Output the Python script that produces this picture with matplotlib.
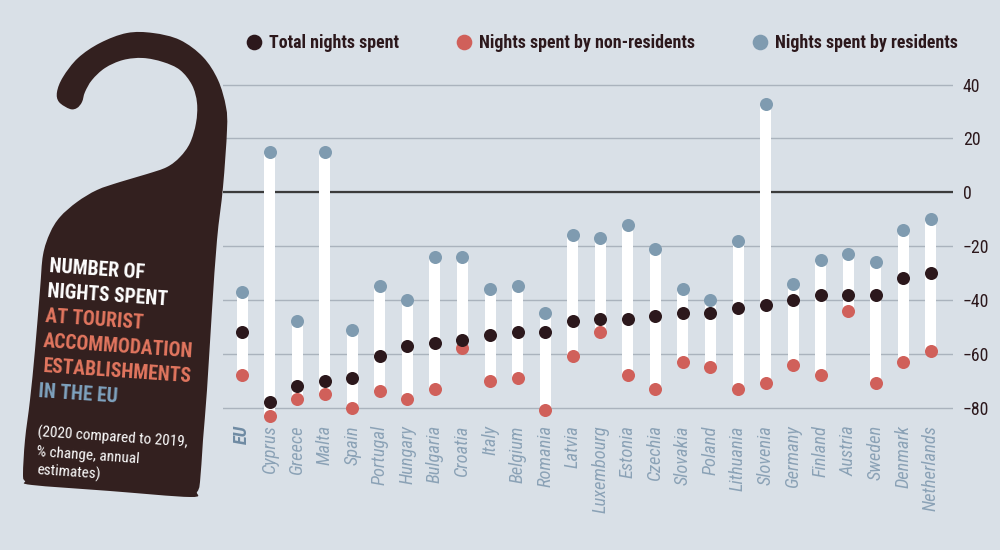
import matplotlib
matplotlib.use("Agg")
import matplotlib.pyplot as plt
from matplotlib import font_manager as fm
from matplotlib.path import Path
from matplotlib.patches import PathPatch
import numpy as np

# 2020 compared to 2019, % change
countries = ["EU", "Cyprus", "Greece", "Malta", "Spain", "Portugal", "Hungary",
             "Bulgaria", "Croatia", "Italy", "Belgium", "Romania", "Latvia",
             "Luxembourg", "Estonia", "Czechia", "Slovakia", "Poland",
             "Lithuania", "Slovenia", "Germany", "Finland", "Austria",
             "Sweden", "Denmark", "Netherlands"]
total = [-52, -78, -72, -70, -69, -61, -57, -56, -55, -53, -52, -52, -48,
         -47, -47, -46, -45, -45, -43, -42, -40, -38, -38, -38, -32, -30]
non_residents = [-68, -83, -77, -75, -80, -74, -77, -73, -58, -70, -69, -81,
                 -61, -52, -68, -73, -63, -65, -73, -71, -64, -68, -44, -71,
                 -63, -59]
residents = [-37, 15, -48, 15, -51, -35, -40, -24, -24, -36, -35, -45, -16,
             -17, -12, -21, -36, -40, -18, 33, -34, -25, -23, -26, -14, -10]

yticks = [40, 20, 0, -20, -40, -60, -80]

BG = "#d9e0e7"
DARK = "#2c181c"
HANGER = "#33201f"
RED = "#d0605a"
BLUE = "#7f9bb0"
LABEL = "#8ba2b6"
ORANGE = "#e2765f"
EUBLUE = "#7fa3bf"

# pick the narrowest family that is installed
installed = {f.name for f in fm.fontManager.ttflist}
narrow = [f.name for f in fm.fontManager.ttflist
          if f.stretch in ("condensed", "semi-condensed", "extra-condensed")]
FONT = "DejaVu Sans"
for cand in ["Liberation Sans Narrow", "Roboto Condensed", "Open Sans Condensed",
             "Noto Sans Condensed", "DejaVu Sans Condensed"] + narrow + \
        ["Roboto", "Liberation Sans", "Lato"]:
    if cand in installed:
        FONT = cand
        break
plt.rcParams["font.family"] = [FONT, "DejaVu Sans"]

fig = plt.figure(figsize=(10, 5.5), dpi=100, facecolor=BG)
renderer = fig.canvas.get_renderer()


def fit_size(text, target_px, **kw):
    # font size that makes `text` about target_px wide
    t = fig.text(0, 0, text, fontsize=20, **kw)
    w = t.get_window_extent(renderer).width
    t.remove()
    return 20 * target_px / w


title_fs = fit_size("ACCOMMODATION", 150, fontweight="bold")
sub_fs = fit_size("(2020 compared to 2019,", 150)
legend_fs = fit_size("Nights spent by non-residents", 216, fontweight="bold")
xlab_fs = fit_size("Netherlands", 86, style="italic")
ytick_fs = fit_size("-80", 22)

### main chart
ax = fig.add_axes([0.223, 0.2345, 0.730, 0.636])
ax.set_facecolor(BG)
x = np.arange(len(countries))
lo = np.minimum.reduce([total, non_residents, residents])
hi = np.maximum.reduce([total, non_residents, residents])
ax.bar(x, hi - lo, bottom=lo, width=0.4, color="white", zorder=2)
s_res = ax.scatter(x, residents, s=88, color=BLUE, lw=0, zorder=3,
                   clip_on=False)
s_non = ax.scatter(x, non_residents, s=88, color=RED, lw=0, zorder=3,
                   clip_on=False)
s_tot = ax.scatter(x, total, s=88, color=DARK, lw=0, zorder=4,
                   clip_on=False)

ax.set_xlim(-0.69, 25.8)
ax.set_ylim(-85, 45)
ax.set_yticks(yticks)
ax.yaxis.tick_right()
ax.tick_params(axis="y", length=0, pad=7, labelsize=ytick_fs, labelcolor=DARK)
ax.set_axisbelow(True)
ax.grid(axis="y", color="#aab3bd", lw=1)
ax.axhline(0, color="#3b3b3b", lw=1.6, zorder=1)

ax.set_xticks(x)
ax.set_xticklabels(countries, rotation=90, style="italic", fontsize=xlab_fs,
                   color=LABEL, va="top", ha="center")
ax.tick_params(axis="x", length=0, pad=3)
eu = ax.get_xticklabels()[0]
eu.set_fontweight("bold")
eu.set_color("#6f8ba3")
for sp in ax.spines.values():
    sp.set_visible(False)

fig.legend([s_tot, s_non, s_res],
           ["Total nights spent", "Nights spent by non-residents",
            "Nights spent by residents"],
           loc="center left", bbox_to_anchor=(0.247, 1 - 43 / 550), ncol=3,
           frameon=False, borderpad=0, borderaxespad=0, handlelength=0.8,
           handletextpad=0.45, columnspacing=3.2, markerscale=1.2,
           scatteryoffsets=[0.5], labelcolor=DARK,
           prop={"weight": "bold", "size": legend_fs})

### door hanger overlay (pixel coordinates)
ov = fig.add_axes([0, 0, 1, 1], zorder=5)
ov.set_xlim(0, 1000)
ov.set_ylim(550, 0)
ov.axis("off")
ov.patch.set_visible(False)

outline = np.array([
    (70, 109), (59, 102), (57, 92), (63, 77), (78, 58), (100, 43), (127, 33),
    (153, 33), (180, 40), (203, 57), (218, 80), (226, 107), (227, 130),
    (223, 187), (217, 240), (212, 310), (207, 390), (203, 440), (200, 482),
    (197, 492), (190, 497), (110, 491), (32, 485), (25, 481), (23, 474),
    (25, 440), (30, 400), (35, 350), (40, 290), (43, 255), (50, 233),
    (60, 217), (77, 202), (97, 190), (120, 182), (147, 174), (167, 167),
    (180, 157), (190, 143), (196, 123), (197, 103), (192, 85), (180, 70),
    (163, 62), (143, 58), (123, 60), (105, 68), (92, 80), (85, 92), (82, 102),
    (77, 108)], float)
n = len(outline)
verts = [outline[0]]
codes = [Path.MOVETO]
for i in range(n):
    p0, p1 = outline[i - 1], outline[i]
    p2, p3 = outline[(i + 1) % n], outline[(i + 2) % n]
    verts += [p1 + (p2 - p0) / 6, p2 - (p3 - p1) / 6, p2]
    codes += [Path.CURVE4] * 3
verts.append(outline[0])
codes.append(Path.CLOSEPOLY)
ov.add_patch(PathPatch(Path(verts, codes), fc=HANGER, ec="none"))

title_lines = [
    ("NUMBER OF", "white", 49, 272),
    ("NIGHTS SPENT", "white", 47, 297),
    ("AT TOURIST", ORANGE, 45, 322),
    ("ACCOMMODATION", ORANGE, 43, 347),
    ("ESTABLISHMENTS", ORANGE, 43, 372),
    ("IN THE EU", EUBLUE, 38, 397),
]
for txt, col, tx, ty in title_lines:
    ov.text(tx, ty, txt, color=col, fontsize=title_fs, fontweight="bold",
            rotation=-4, rotation_mode="anchor", ha="left", va="baseline")

sub_lines = [("(2020 compared to 2019,", 37, 437),
             ("% change, annual", 36, 456),
             ("estimates)", 36, 475)]
for txt, tx, ty in sub_lines:
    ov.text(tx, ty, txt, color="white", fontsize=sub_fs, rotation=-4,
            rotation_mode="anchor", ha="left", va="baseline")

fig.savefig("out.png", dpi=100, facecolor=BG)
